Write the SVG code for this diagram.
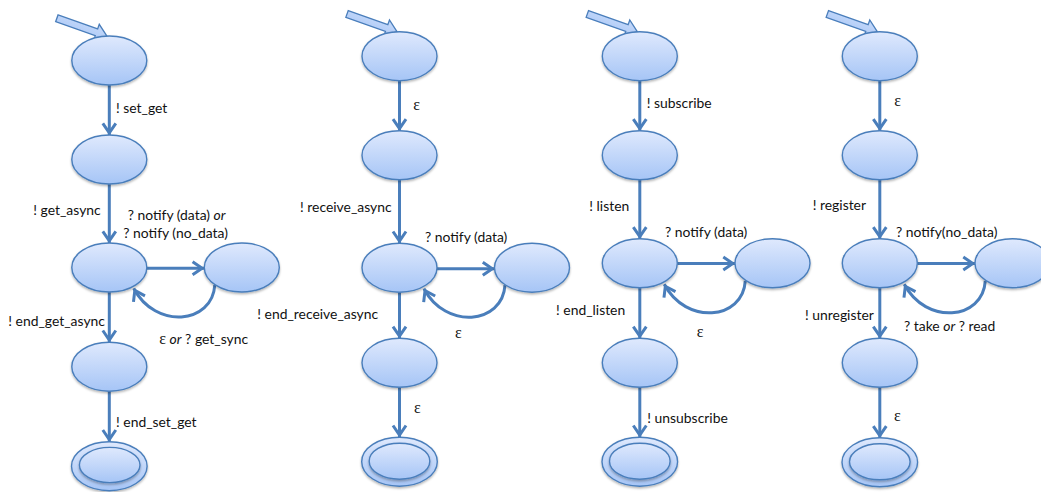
<svg xmlns="http://www.w3.org/2000/svg" width="1041" height="492" viewBox="0 0 1041 492">
<defs>
<linearGradient id="gf" x1="0" y1="0" x2="0" y2="1">
<stop offset="0" stop-color="#dfe9fd"/>
<stop offset="1" stop-color="#a6c5f6"/>
</linearGradient>
<linearGradient id="ga" x1="0" y1="-1" x2="0" y2="1" gradientUnits="objectBoundingBox">
<stop offset="0" stop-color="#dce8fc"/>
<stop offset="1" stop-color="#aecaf7"/>
</linearGradient>
<filter id="sh" x="-20%" y="-20%" width="140%" height="150%">
<feDropShadow dx="0" dy="1.5" stdDeviation="1.3" flood-color="#000" flood-opacity="0.3"/>
</filter>
<marker id="ah" markerUnits="userSpaceOnUse" markerWidth="20" markerHeight="20" viewBox="-14 -10 20 20" refX="2.2" refY="0" orient="auto">
<path d="M-9.5,-6.5 L0,0 L-9.5,6.5" fill="none" stroke="#4a7ebb" stroke-width="3"/>
</marker>
<path id="start" d="M-53,-3.6 L-11,-3.6 L-11,-8.5 L0,0 L-11,8.5 L-11,3.6 L-53,3.6 Z"/>
</defs>
<style>
.st{fill:url(#gf);stroke:#4a7ebb;stroke-width:1.4;filter:url(#sh)}
.in{fill:url(#gf);stroke:#4a7ebb;stroke-width:1.4}
.cn{fill:none;stroke:#4a7ebb;stroke-width:3;marker-end:url(#ah)}
.sa{fill:url(#ga);stroke:#4a7ebb;stroke-width:1.3}
text{font-family:Lato,"Liberation Sans",sans-serif;font-size:13.9px;fill:#111}
.ep{font-family:"Liberation Serif",serif;font-size:16px}
.it{font-style:italic}
</style>

<g id="connectors">
<!-- start arrows -->
<use href="#start" class="sa" transform="translate(106.8,36) rotate(19.5)"/>
<use href="#start" class="sa" transform="translate(397,31.7) rotate(19.5)"/>
<use href="#start" class="sa" transform="translate(637.3,31.7) rotate(19.5)"/>
<use href="#start" class="sa" transform="translate(877.3,31.7) rotate(19.5)"/>
<!-- column 1 -->
<path class="cn" d="M109.3,85 V135"/>
<path class="cn" d="M109.3,184 V243"/>
<path class="cn" d="M146.8,268.3 H204.3"/>
<path class="cn" d="M214.8,285 C212.3,324.5 155.3,329.5 133.8,288.5"/>
<path class="cn" d="M109.3,292 V342.2"/>
<path class="cn" d="M109.3,391.2 V441.7"/>
<!-- column 2 -->
<path class="cn" d="M399.5,80.7 V130.8"/>
<path class="cn" d="M399.5,179.8 V243.2"/>
<path class="cn" d="M437,268.7 H494.5"/>
<path class="cn" d="M505,285.2 C502.5,324.7 445.5,329.7 424,288.7"/>
<path class="cn" d="M399.5,292.2 V338.3"/>
<path class="cn" d="M399.5,387.3 V437.2"/>
<!-- column 3 -->
<path class="cn" d="M639.8,80.7 V130.8"/>
<path class="cn" d="M639.8,179.8 V238.8"/>
<path class="cn" d="M677.3,263.6 H735"/>
<path class="cn" d="M745.3,280.8 C742.8,320.3 685.8,325.3 664.3,284.3"/>
<path class="cn" d="M639.8,287.8 V338.3"/>
<path class="cn" d="M639.8,387.3 V437.2"/>
<!-- column 4 -->
<path class="cn" d="M879.8,80.7 V130.8"/>
<path class="cn" d="M879.8,179.8 V238.8"/>
<path class="cn" d="M917.3,263.6 H975"/>
<path class="cn" d="M985.3,280.8 C982.8,320.3 925.8,325.3 904.3,284.3"/>
<path class="cn" d="M879.8,287.8 V338.3"/>
<path class="cn" d="M879.8,387.3 V437.8"/>
</g>

<!-- column 1 nodes -->
<g id="c1s1"><ellipse class="st" cx="109.3" cy="60.5" rx="37.5" ry="24.5"/></g>
<g id="c1s2"><ellipse class="st" cx="109.3" cy="159.5" rx="37.5" ry="24.5"/></g>
<g id="c1s3"><ellipse class="st" cx="109.3" cy="267.5" rx="37.5" ry="24.5"/></g>
<g id="c1s3b"><ellipse class="st" cx="241.8" cy="267.5" rx="37.5" ry="24.5"/></g>
<g id="c1s4"><ellipse class="st" cx="109.3" cy="366.7" rx="37.5" ry="24.5"/></g>
<g id="c1s5"><ellipse class="st" cx="109.3" cy="466.2" rx="37.8" ry="24.5"/><ellipse class="in" cx="109.7" cy="465" rx="30.3" ry="17.6" filter="url(#sh)"/></g>

<!-- column 2 nodes -->
<g id="c2s1"><ellipse class="st" cx="399.5" cy="56.2" rx="37.5" ry="24.5"/></g>
<g id="c2s2"><ellipse class="st" cx="399.5" cy="155.3" rx="37.5" ry="24.5"/></g>
<g id="c2s3"><ellipse class="st" cx="399.5" cy="267.7" rx="37.5" ry="24.5"/></g>
<g id="c2s3b"><ellipse class="st" cx="532" cy="267.7" rx="37.5" ry="24.5"/></g>
<g id="c2s4"><ellipse class="st" cx="399.5" cy="362.8" rx="37.5" ry="24.5"/></g>
<g id="c2s5"><ellipse class="st" cx="399.5" cy="461.7" rx="37.8" ry="24.5"/><ellipse class="in" cx="399.5" cy="461.2" rx="30.3" ry="18" filter="url(#sh)"/></g>

<!-- column 3 nodes -->
<g id="c3s1"><ellipse class="st" cx="639.8" cy="56.2" rx="37.5" ry="24.5"/></g>
<g id="c3s2"><ellipse class="st" cx="639.8" cy="155.3" rx="37.5" ry="24.5"/></g>
<g id="c3s3"><ellipse class="st" cx="639.8" cy="263.3" rx="37.5" ry="24.5"/></g>
<g id="c3s3b"><ellipse class="st" cx="772.5" cy="263.3" rx="37.5" ry="24.5"/></g>
<g id="c3s4"><ellipse class="st" cx="639.8" cy="362.8" rx="37.5" ry="24.5"/></g>
<g id="c3s5"><ellipse class="st" cx="639.8" cy="461.7" rx="37.8" ry="24.5"/><ellipse class="in" cx="639.8" cy="461.2" rx="30.3" ry="18" filter="url(#sh)"/></g>

<!-- column 4 nodes -->
<g id="c4s1"><ellipse class="st" cx="879.8" cy="56.2" rx="37.5" ry="24.5"/></g>
<g id="c4s2"><ellipse class="st" cx="879.8" cy="155.3" rx="37.5" ry="24.5"/></g>
<g id="c4s3"><ellipse class="st" cx="879.8" cy="263.3" rx="37.5" ry="24.5"/></g>
<g id="c4s3b"><ellipse class="st" cx="1012.5" cy="263.3" rx="37.5" ry="24.5"/></g>
<g id="c4s4"><ellipse class="st" cx="879.8" cy="362.8" rx="37.5" ry="24.5"/></g>
<g id="c4s5"><ellipse class="st" cx="879.8" cy="462.3" rx="37.8" ry="24.5"/><ellipse class="in" cx="879.8" cy="461.8" rx="30.3" ry="18" filter="url(#sh)"/></g>

<g id="labels">
<text x="116" y="113">! set_get</text>
<text x="33.3" y="215">! get_async</text>
<text x="127.7" y="219.5">? notify (data) <tspan class="it">or</tspan></text>
<text x="123.3" y="237.5">? notify (no_data)</text>
<text x="8.3" y="326">! end_get_async</text>
<text x="159.3" y="344"><tspan class="ep">ε</tspan> <tspan class="it">or</tspan> ? get_sync</text>
<text x="116" y="427">! end_set_get</text>

<text class="ep" x="413.3" y="110">ε</text>
<text x="300" y="211.5">! receive_async</text>
<text x="425" y="242">? notify (data)</text>
<text x="257.3" y="319">! end_receive_async</text>
<text class="ep" x="455" y="338.3">ε</text>
<text class="ep" x="414" y="413.3">ε</text>

<text x="646.7" y="108">! subscribe</text>
<text x="589.3" y="211">! listen</text>
<text x="665" y="237">? notify (data)</text>
<text x="556" y="315">! end_listen</text>
<text class="ep" x="696.7" y="337.3">ε</text>
<text x="647.3" y="423">! unsubscribe</text>

<text class="ep" x="894.3" y="106">ε</text>
<text x="812.7" y="210">! register</text>
<text x="896" y="236.7">? notify(no_data)</text>
<text x="805" y="320">! unregister</text>
<text x="904" y="331">? take <tspan class="it">or</tspan> ? read</text>
<text class="ep" x="894" y="421">ε</text>
</g>
</svg>
